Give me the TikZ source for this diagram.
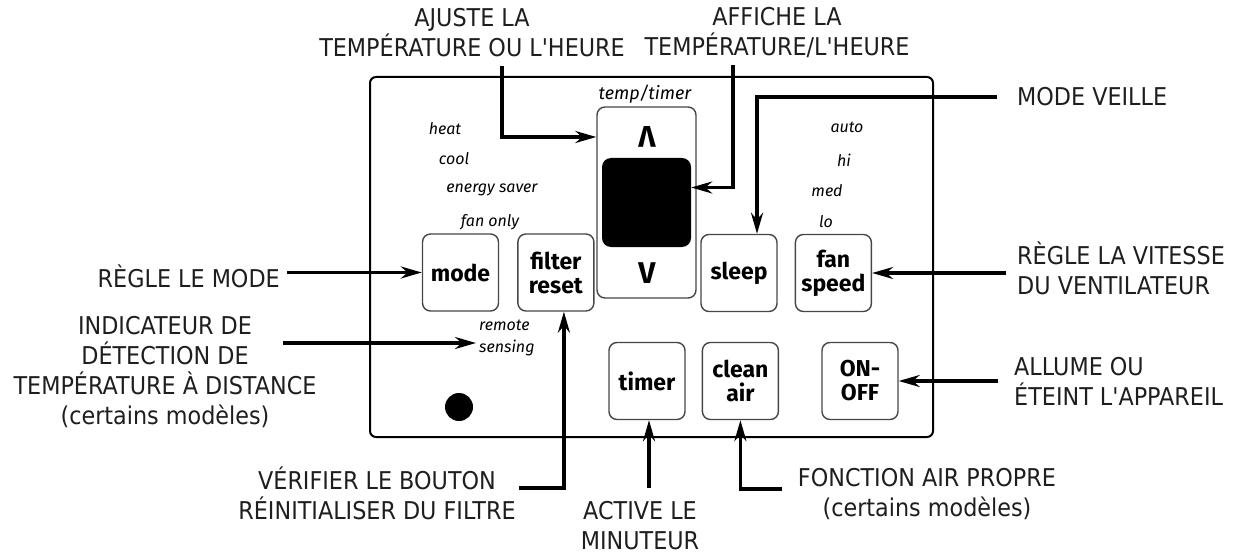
\documentclass[tikz,border=0pt]{standalone}
\usepackage{fontspec}
\setmainfont{DejaVu Sans}[FakeStretch=0.91,Ligatures=TeXOff]
\newfontfamily\keyfont{Fira Sans}
\usetikzlibrary{arrows.meta,positioning}
\definecolor{keygray}{RGB}{70,70,70}
\definecolor{inktext}{RGB}{30,30,30}

\begin{document}
\begin{tikzpicture}[x=1pt,y=-1pt,lbl/.style={inner sep=0pt,align=center,font=\fontsize{24.5}{30}\selectfont,text=inktext},key/.style={draw=keygray,line width=1.4pt,rounded corners=8pt,minimum width=76pt,minimum height=77pt,align=center,font=\keyfont\bfseries\fontsize{23}{24}\selectfont},tag/.style={inner sep=0pt,font=\keyfont\itshape\fontsize{16}{22}\selectfont},chev/.style={inner sep=0pt,font=\keyfont\bfseries\fontsize{30}{30}\selectfont},arr/.style={-{Stealth[length=21pt,width=12pt]},line width=3.2pt}]
\useasboundingbox (0,0) rectangle (1234,556);
\draw[line width=2pt,rounded corners=6pt] (370,77) rectangle (933,437);
\node[key](mode) at (460.5,272.5){mode};
\node[key,right=18pt of mode](filter){filter\\reset};
\node[draw=keygray,line width=1.4pt,rounded corners=8pt,minimum width=99pt,minimum height=191pt](col) at (646.5,202.5){};
\node[fill=black,rounded corners=9pt,minimum width=89pt,minimum height=89pt](disp) at (646.5,202.5){};
\node[chev,rotate=180](up) at (647,137){V};
\node[chev](down) at (647,273){V};
\node[key](sleep) at (739,273){sleep};
\node[key,right=17pt of sleep](fan){fan\\speed};
\node[key](timer) at (647,381){timer};
\node[key,right=16pt of timer](clean){clean\\air};
\node[key](onoff) at (860,381){ON-\\OFF};
\node[circle,fill=black,minimum size=28pt,inner sep=0pt](sensor) at (459,407){};
\node[tag,font=\keyfont\itshape\fontsize{18}{22}\selectfont](temptimer) at (645,94){temp/timer};
\node[tag](heat) at (445,129){heat};
\node[tag](cool) at (454,159){cool};
\node[tag](saver) at (492,190){energy saver};
\node[tag](fanonly) at (490,222){fan only};
\node[tag](auto) at (847,127){auto};
\node[tag](hi) at (844,160){hi};
\node[tag](med) at (827,191){med};
\node[tag](lo) at (826,222){lo};
\node[tag,align=left,anchor=west](remote) at (479,338){remote\\sensing};
\node[lbl](adjust) at (472,33){AJUSTE LA\\TEMPÉRATURE OU L'HEURE};
\node[lbl](affiche) at (777,33){AFFICHE LA\\TEMPÉRATURE/L'HEURE};
\node[lbl,anchor=west](veille) at (1017,97){MODE VEILLE};
\node[lbl,anchor=west,align=left](vitesse) at (1017,268){RÈGLE LA VITESSE\\DU VENTILATEUR};
\node[lbl,anchor=east](regle) at (280,276){RÈGLE LE MODE};
\node[lbl](indic) at (165,372){INDICATEUR DE\\DÉTECTION DE\\TEMPÉRATURE À DISTANCE\\(certains modèles)};
\node[lbl,anchor=west,align=left](allume) at (1014,381){ALLUME OU\\ÉTEINT L'APPAREIL};
\node[lbl](verif) at (377,493){VÉRIFIER LE BOUTON\\RÉINITIALISER DU FILTRE};
\node[lbl](active) at (640,526){ACTIVE LE\\MINUTEUR};
\node[lbl](fonction) at (927,494){FONCTION AIR PROPRE\\(certains modèles)};
\coordinate(adjfoot) at (502,66);\coordinate(afffoot) at (733,65);\coordinate(indfoot) at (283,343);
\coordinate(verfoot) at (519,488);\coordinate(actfoot) at (649,488);\coordinate(fonfoot) at (782,489);
\draw[arr](adjfoot)|-(col.west|-up);\draw[arr](afffoot)|-([yshift=15pt]disp.east);
\draw[arr]([xshift=-20pt]veille.west)-|([xshift=18pt]sleep.north);\draw[arr]([xshift=-11pt]vitesse.west|-fan.east)--(fan.east);
\draw[arr]([xshift=7pt]regle.east|-mode.west)--(mode.west);\draw[arr](indfoot)--([xshift=-3pt]indfoot-|remote.west);
\draw[arr](verfoot)-|([xshift=8pt]filter.south);\draw[arr](actfoot)--(actfoot|-timer.south);
\draw[arr](fonfoot)-|(clean.south);\draw[arr]([xshift=-16pt]allume.west|-onoff.east)--(onoff.east);
\end{tikzpicture}
\end{document}
